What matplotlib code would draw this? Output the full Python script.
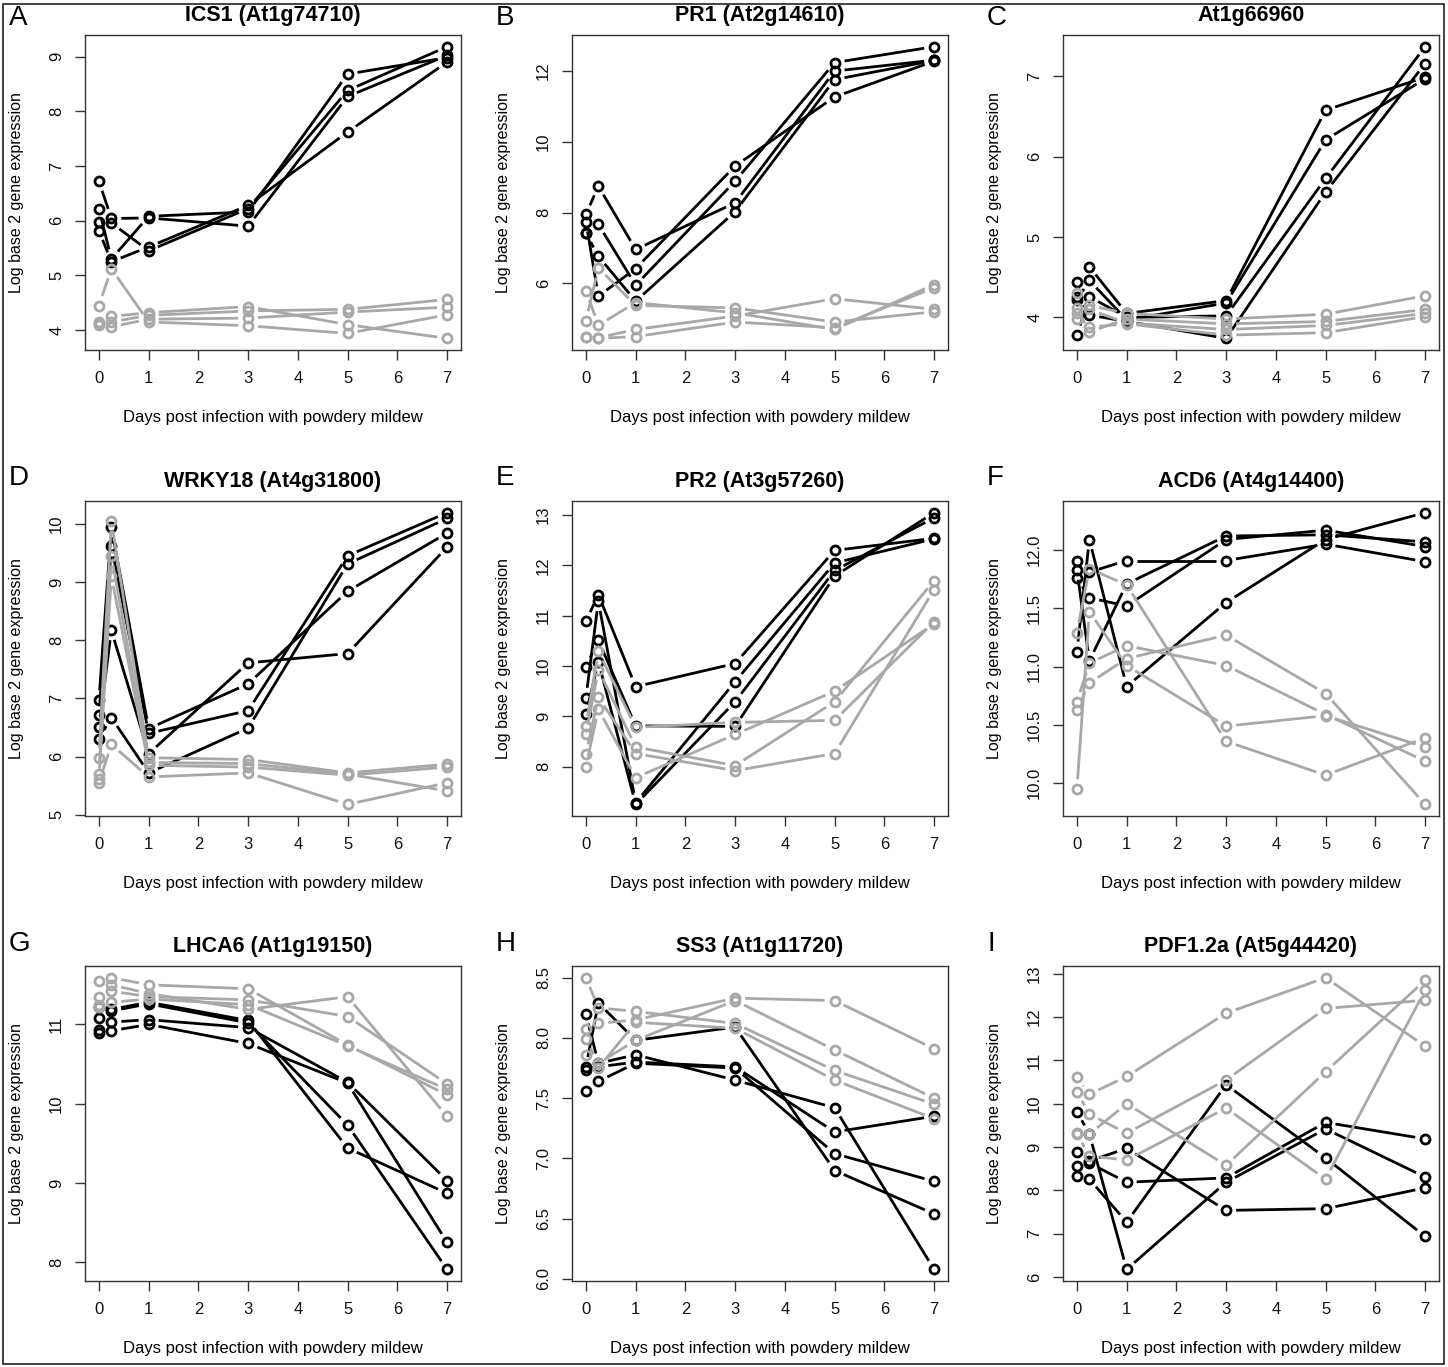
import numpy as np
import matplotlib
matplotlib.use("Agg")
import matplotlib.pyplot as plt

plt.rcParams['font.family'] = ['Liberation Sans', 'DejaVu Sans']

# days post infection
days = [0, 0.25, 1, 3, 5, 7]
x_ticks = [0, 1, 2, 3, 4, 5, 6, 7]

# A - ICS1
ics1_black = [[6.72, 6.04, 6.05, 5.90, 8.27, 9.02],
              [6.22, 5.30, 6.08, 6.16, 8.68, 8.98],
              [5.97, 5.96, 5.45, 6.22, 8.38, 9.18],
              [5.82, 5.25, 5.52, 6.28, 7.62, 8.90]]
ics1_gray = [[4.45, 5.12, 4.15, 4.08, 3.94, 4.28],
             [4.15, 4.25, 4.32, 4.43, 4.10, 3.85],
             [4.12, 4.15, 4.27, 4.35, 4.38, 4.56],
             [4.10, 4.06, 4.20, 4.22, 4.33, 4.42]]

# B - PR1
pr1_black = [[7.95, 8.75, 6.96, 8.28, 12.00, 12.31],
             [7.75, 5.64, 6.42, 9.32, 11.27, 12.28],
             [7.43, 7.67, 5.95, 8.89, 12.24, 12.69],
             [7.42, 6.77, 5.50, 8.03, 11.76, 12.30]]
pr1_gray = [[5.80, 4.82, 5.46, 5.17, 4.70, 5.97],
            [4.94, 6.44, 5.38, 5.31, 4.91, 5.20],
            [4.50, 4.47, 4.70, 5.08, 5.57, 5.27],
            [4.50, 4.45, 4.50, 4.91, 4.75, 5.88]]

# C - At1g66960
at1g_black = [[4.44, 4.63, 4.05, 4.21, 6.58, 6.99],
              [4.22, 4.46, 3.97, 4.18, 6.21, 6.97],
              [3.78, 4.26, 4.00, 4.02, 5.73, 7.37],
              [4.25, 4.03, 3.95, 3.74, 5.56, 7.16]]
at1g_gray = [[4.30, 4.15, 4.05, 3.98, 4.04, 4.27],
             [4.12, 3.82, 3.98, 3.92, 3.95, 4.10],
             [4.05, 4.10, 3.93, 3.85, 3.90, 4.05],
             [3.98, 3.88, 3.92, 3.78, 3.81, 4.01]]

# D - WRKY18
wrky_black = [[6.97, 9.94, 6.48, 7.25, 8.84, 9.84],
              [6.71, 9.61, 6.40, 6.79, 9.45, 10.19],
              [6.50, 8.17, 6.05, 7.61, 7.77, 9.60],
              [6.31, 6.67, 5.72, 6.49, 9.31, 10.09]]
wrky_gray = [[5.98, 10.05, 5.98, 5.95, 5.72, 5.87],
             [5.70, 9.45, 5.90, 5.88, 5.70, 5.41],
             [5.62, 9.10, 5.85, 5.82, 5.68, 5.82],
             [5.55, 6.21, 5.65, 5.72, 5.18, 5.55]]

# E - PR2
pr2_black = [[10.89, 11.42, 9.59, 10.05, 12.30, 12.54],
             [9.99, 10.51, 8.81, 8.80, 11.79, 13.05],
             [9.37, 11.29, 7.28, 9.69, 12.05, 12.53],
             [9.04, 10.09, 7.25, 9.29, 11.90, 12.95]]
pr2_gray = [[8.81, 10.29, 8.78, 8.88, 8.92, 10.88],
            [8.64, 9.93, 8.39, 8.02, 9.29, 11.70],
            [8.25, 9.38, 8.26, 7.92, 8.26, 11.52],
            [8.00, 9.14, 7.78, 8.64, 9.50, 10.84]]

# F - ACD6
acd6_black = [[11.91, 11.81, 11.91, 11.91, 12.05, 11.90],
              [11.83, 11.05, 11.71, 12.12, 12.13, 12.07],
              [11.76, 11.59, 11.52, 12.09, 12.17, 12.03],
              [11.13, 12.09, 10.83, 11.55, 12.09, 12.32]]
acd6_gray = [[11.29, 11.84, 11.70, 10.36, 10.07, 10.39],
             [10.70, 11.03, 11.18, 11.01, 10.59, 10.19],
             [10.63, 10.86, 11.07, 11.27, 10.77, 9.82],
             [9.95, 11.47, 11.01, 10.49, 10.58, 10.31]]

# G - LHCA6
lhca6_black = [[11.22, 11.19, 11.28, 11.05, 9.44, 8.87],
               [11.08, 11.17, 11.26, 11.02, 9.73, 7.91],
               [10.93, 11.03, 11.06, 10.96, 10.27, 9.03],
               [10.89, 10.92, 11.00, 10.76, 10.26, 8.25]]
lhca6_gray = [[11.55, 11.59, 11.50, 11.45, 10.74, 10.11],
              [11.35, 11.50, 11.39, 11.19, 11.35, 9.84],
              [11.24, 11.42, 11.35, 11.31, 11.10, 10.25],
              [11.22, 11.28, 11.32, 11.25, 10.73, 10.18]]

# H - SS3
ss3_black = [[7.76, 8.29, 7.98, 8.09, 6.90, 6.54],
             [8.20, 7.79, 7.86, 7.65, 7.42, 6.08],
             [7.73, 7.76, 7.80, 7.76, 7.22, 7.35],
             [7.56, 7.64, 7.79, 7.75, 7.04, 6.81]]
ss3_gray = [[8.50, 8.25, 8.22, 8.12, 7.73, 7.45],
            [8.07, 8.12, 8.15, 8.33, 8.31, 7.91],
            [7.99, 7.79, 7.98, 8.31, 7.90, 7.50],
            [7.86, 7.75, 8.13, 8.08, 7.65, 7.33]]

# I - PDF1.2a
pdf_black = [[9.82, 9.30, 6.18, 8.19, 9.42, 8.31],
             [8.89, 8.68, 8.97, 7.54, 7.58, 8.06],
             [8.56, 8.63, 8.19, 8.29, 9.57, 9.19],
             [8.33, 8.26, 7.27, 10.44, 8.75, 6.94]]
pdf_gray = [[10.61, 10.22, 10.63, 12.09, 12.91, 11.33],
            [10.27, 9.76, 9.32, 10.55, 12.20, 12.39],
            [9.32, 9.30, 10.00, 8.58, 10.74, 12.85],
            [9.30, 8.80, 8.70, 9.90, 8.26, 12.62]]

letters = ["A", "B", "C", "D", "E", "F", "G", "H", "I"]
titles = ["ICS1 (At1g74710)", "PR1 (At2g14610)", "At1g66960",
          "WRKY18 (At4g31800)", "PR2 (At3g57260)", "ACD6 (At4g14400)",
          "LHCA6 (At1g19150)", "SS3 (At1g11720)", "PDF1.2a (At5g44420)"]
blacks = [ics1_black, pr1_black, at1g_black, wrky_black, pr2_black,
          acd6_black, lhca6_black, ss3_black, pdf_black]
grays = [ics1_gray, pr1_gray, at1g_gray, wrky_gray, pr2_gray,
         acd6_gray, lhca6_gray, ss3_gray, pdf_gray]
y_ticks = [[4, 5, 6, 7, 8, 9], [6, 8, 10, 12], [4, 5, 6, 7],
           [5, 6, 7, 8, 9, 10], [8, 9, 10, 11, 12, 13],
           [10.0, 10.5, 11.0, 11.5, 12.0], [8, 9, 10, 11],
           [6.0, 6.5, 7.0, 7.5, 8.0, 8.5], [6, 7, 8, 9, 10, 11, 12, 13]]
y_fmt = ["%d", "%d", "%d", "%d", "%d", "%.1f", "%d", "%.1f", "%d"]

W, H = 1448, 1367
fig = plt.figure(figsize=(W / 100, H / 100), dpi=100)

# outer frame
fig.patches.append(plt.Rectangle((3 / W, 3 / H), 1 - 7 / W, 1 - 7 / H,
                                 transform=fig.transFigure, fill=False,
                                 edgecolor='#222222', linewidth=1.2))

col_left = [85, 572, 1063]
row_top = [35, 501, 966]
ax_w, ax_h = 376, 315
letter_x = [9, 496, 987]
letter_y = [5, 465, 931]

BLACK = '#000000'
GRAY = '#a8a8a8'
GAP = 10  # px between line end and point centre (R type="b")


def draw_series(ax, x, y, color):
    pts = ax.transData.transform(np.column_stack([x, y]))
    inv = ax.transData.inverted()
    for i in range(len(x) - 1):
        p0, p1 = pts[i], pts[i + 1]
        d = p1 - p0
        L = np.hypot(*d)
        if L <= 2 * GAP:
            continue
        u = d / L
        q = inv.transform(np.array([p0 + u * GAP, p1 - u * GAP]))
        ax.plot(q[:, 0], q[:, 1], color=color, lw=2.0,
                solid_capstyle='butt')
    ax.plot(x, y, linestyle='none', marker='o', ms=6.5, mfc='none',
            mec=color, mew=2.0)


for k in range(9):
    r, c = divmod(k, 3)
    left = col_left[c] / W
    bottom = 1 - (row_top[r] + ax_h) / H
    ax = fig.add_axes([left, bottom, ax_w / W, ax_h / H])

    allv = np.array(blacks[k] + grays[k])
    lo, hi = allv.min(), allv.max()
    pad = (hi - lo) * 0.04
    ax.set_xlim(-0.28, 7.28)
    ax.set_ylim(lo - pad, hi + pad)

    for s in blacks[k]:
        draw_series(ax, days, s, BLACK)
    for s in grays[k]:
        draw_series(ax, days, s, GRAY)

    ax.set_xticks(x_ticks)
    ax.set_yticks(y_ticks[k])
    ax.set_yticklabels([y_fmt[k] % v for v in y_ticks[k]])
    ax.tick_params(direction='out', length=7, width=1, color='#333333',
                   labelsize=12, pad=8, labelcolor='#111111')
    for lab in ax.get_yticklabels():
        lab.set_rotation(90)
        lab.set_va('center')
    for sp in ax.spines.values():
        sp.set_color('#333333')
        sp.set_linewidth(1)

    ax.set_title(titles[k], fontsize=15.5, fontweight='bold', pad=10)
    ax.set_xlabel("Days post infection with powdery mildew", fontsize=12)
    ax.set_ylabel("Log base 2 gene expression", fontsize=11.5)
    ax.xaxis.set_label_coords(0.5, -60 / ax_h)
    ax.yaxis.set_label_coords(-61 / ax_w, 0.5)

    fig.text(letter_x[c] / W, 1 - letter_y[r] / H, letters[k],
             fontsize=20, va='top', ha='left')

fig.savefig("out.png", dpi=100)
